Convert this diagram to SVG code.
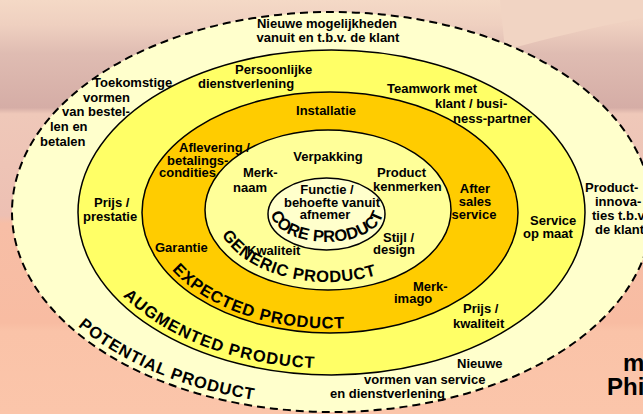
<svg xmlns="http://www.w3.org/2000/svg" width="643" height="414" viewBox="0 0 643 414">
<defs>
<linearGradient id="bg" x1="0" y1="0" x2="0" y2="414" gradientUnits="userSpaceOnUse">
<stop offset="0" stop-color="#F4D9C6"/>
<stop offset="0.06" stop-color="#EFD0C0"/>
<stop offset="0.13" stop-color="#DFBCB2"/>
<stop offset="0.26" stop-color="#D5ADA6"/>
<stop offset="0.275" stop-color="#EFC8B9"/>
<stop offset="0.52" stop-color="#EDC0B3"/>
<stop offset="0.54" stop-color="#F7BEA6"/>
<stop offset="0.78" stop-color="#F8BCA2"/>
<stop offset="0.80" stop-color="#FAC3A8"/>
<stop offset="1" stop-color="#FBC5AA"/>
</linearGradient>
<path id="pCore" d="M 273,204 A 56,30 0 1,0 381,204"/>
<path id="pGen" d="M 222,235 A 113,72 0 0,0 441,210"/>
<path id="pExp" d="M 172,270 A 182,116 0 0,0 512,212.5"/>
<path id="pAug" d="M 123,296 A 246.5,155.5 0 0,0 578,212.5"/>
<path id="pPot" d="M 78,326 A 314,194 0 0,0 646,212"/>
</defs>
<style>
.ring{stroke:#000;stroke-width:1.5}
.t{font-family:'Liberation Sans',Arial,sans-serif;font-weight:bold;font-size:13px;fill:#000}
.m{text-anchor:middle}
.big{font-size:16.5px}
.huge{font-size:24px}
</style>
<g id="background">
<rect x="0" y="0" width="643" height="414" fill="url(#bg)"/>
<path d="M500,0 L643,0 L643,18 C590,28 550,38 505,50 Z" fill="#F1D4C3"/>
</g>
<g id="potential-product">
<ellipse cx="332" cy="212" rx="320" ry="200" fill="#FFFFCC" stroke="#000" stroke-width="2" stroke-dasharray="8 5"/>
</g>
<g id="augmented-product">
<ellipse class="ring" cx="331.5" cy="212.5" rx="253.5" ry="162.5" fill="#FFFF66"/>
</g>
<g id="expected-product">
<ellipse class="ring" cx="330" cy="212.5" rx="188" ry="120.5" fill="#FFCC00"/>
</g>
<g id="generic-product">
<ellipse class="ring" cx="328" cy="210" rx="123" ry="80" fill="#FFFF99"/>
</g>
<g id="core-product">
<ellipse class="ring" cx="326.5" cy="214" rx="58.5" ry="36" fill="#FFFFCC"/>
</g>
<g id="connectors"/>
<g id="labels-potential">
<text class="t m" x="327" y="28">Nieuwe mogelijkheden</text>
<text class="t m" x="328" y="42">vanuit en t.b.v. de klant</text>
<text class="t" x="93" y="87">Toekomstige</text>
<text class="t" x="83" y="102">vormen</text>
<text class="t" x="62" y="116">van bestel-</text>
<text class="t" x="50" y="131">len en</text>
<text class="t" x="40" y="146">betalen</text>
<text class="t" x="585" y="192">Product-</text>
<text class="t" x="595" y="206">innova-</text>
<text class="t" x="592" y="220">ties t.b.v.</text>
<text class="t" x="595" y="234">de klant</text>
<text class="t" x="457" y="368">Nieuwe</text>
<text class="t" x="364" y="384">vormen van service</text>
<text class="t" x="330" y="398">en dienstverlening</text>
<text class="t big" letter-spacing="0.8"><textPath href="#pPot">POTENTIAL PRODUCT</textPath></text>
</g>
<g id="labels-augmented">
<text class="t" x="235" y="74">Persoonlijke</text>
<text class="t" x="198" y="88">dienstverlening</text>
<text class="t" x="387" y="93">Teamwork met</text>
<text class="t" x="435" y="108">klant / busi-</text>
<text class="t" x="453" y="123">ness-partner</text>
<text class="t" x="94" y="207">Prijs /</text>
<text class="t" x="83" y="221">prestatie</text>
<text class="t" x="530" y="225">Service</text>
<text class="t" x="523" y="238">op maat</text>
<text class="t" x="463" y="313">Prijs /</text>
<text class="t" x="453" y="328">kwaliteit</text>
<text class="t big" letter-spacing="1"><textPath href="#pAug">AUGMENTED PRODUCT</textPath></text>
</g>
<g id="labels-expected">
<text class="t m" x="326" y="115">Installatie</text>
<text class="t" x="179" y="152">Aflevering /</text>
<text class="t" x="167" y="165">betalings-</text>
<text class="t" x="159" y="177">condities</text>
<text class="t" x="155" y="252">Garantie</text>
<text class="t m" x="475" y="193">After</text>
<text class="t m" x="475" y="206">sales</text>
<text class="t m" x="474" y="219">service</text>
<text class="t" x="413" y="291">Merk-</text>
<text class="t" x="394" y="303">imago</text>
<text class="t big" letter-spacing="0.8"><textPath href="#pExp">EXPECTED PRODUCT</textPath></text>
</g>
<g id="labels-generic">
<text class="t m" x="328" y="161">Verpakking</text>
<text class="t" x="243" y="177">Merk-</text>
<text class="t" x="233" y="192">naam</text>
<text class="t" x="377" y="177">Product</text>
<text class="t" x="373" y="191">kenmerken</text>
<text class="t" x="247" y="255">Kwaliteit</text>
<text class="t" x="383" y="242">Stijl /</text>
<text class="t" x="373" y="254">design</text>
<text class="t big" letter-spacing="0.6"><textPath href="#pGen">GENERIC PRODUCT</textPath></text>
</g>
<g id="labels-core">
<text class="t m" x="327" y="194">Functie /</text>
<text class="t m" x="332" y="207">behoefte vanuit</text>
<text class="t m" x="325" y="219">afnemer</text>
<text class="t big m"><textPath href="#pCore" startOffset="50%">CORE PRODUCT</textPath></text>
</g>
<g id="corner-text">
<text class="t huge" x="623" y="371">m</text>
<text class="t huge" x="607" y="395">Phi</text>
</g>
</svg>
